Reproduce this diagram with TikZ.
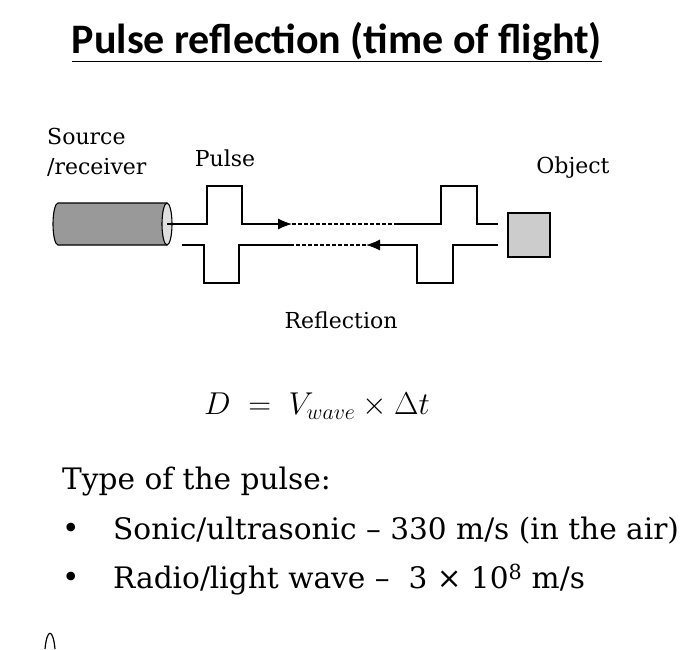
\documentclass[tikz,border=0pt]{standalone}
\usepackage{fontspec}
\setmainfont{DejaVu Serif}
\newfontfamily\titlefont{Carlito}
\usetikzlibrary{arrows.meta}
\begin{document}
\begin{tikzpicture}[x=1pt,y=-1pt,
  wire/.style={line width=1.1pt},
  dashline/.style={wire,dash pattern=on 4pt off 2pt},
  tip/.style={-{Latex[length=14pt,width=11pt]}},
  lbl/.style={font=\fontsize{22}{26}\selectfont,align=left},
  big/.style={font=\fontsize{29.6}{34}\selectfont,anchor=west}]
\useasboundingbox (0,0) rectangle (692,649);
% title
\node[font=\titlefont\bfseries\fontsize{42}{46}\selectfont] (title) at (337,42) {\underline{Pulse reflection (time of flight)}};
% source cylinder
\filldraw[wire,fill=gray!80] (167,203) -- (58,203) arc[x radius=5pt,y radius=21pt,start angle=90,end angle=270] -- (167,245);
\filldraw[wire,fill=gray!25] (167,224) ellipse[x radius=5pt,y radius=21pt];
\coordinate (src) at (167,224);
% object
\node[draw,wire,fill=gray!40,minimum width=42pt,minimum height=44pt,inner sep=0pt] (obj) at (529,235) {};
% outgoing pulse
\coordinate (a1) at (292,224);
\coordinate (a2) at (395,224);
\draw[wire,tip] (src) -- (207,224) -- (207,186) -- (242,186) -- (242,224) -- (a1);
\draw[dashline] (a1) -- (a2);
\draw[wire] (a2) -- (441,224) -- (441,186) -- (477,186) -- (477,224) -- (498,224);
% reflected pulse
\coordinate (b1) at (182,245);
\coordinate (b2) at (290,245);
\coordinate (b3) at (366,245);
\draw[wire] (b1) -- (204,245) -- (204,283) -- (239,283) -- (239,245) -- (b2);
\draw[dashline] (b2) -- (b3);
\draw[wire,tip] (498,245) -- (453,245) -- (453,283) -- (417,283) -- (417,245) -- (b3);
% labels
\node[lbl,anchor=west,inner sep=0pt] (s1) at (47,136) {Source};
\node[lbl,anchor=west,inner sep=0pt] (s2) at (47,167) {/receiver};
\node[lbl] (pulse) at (225,158) {Pulse};
\node[lbl] (object) at (573,168) {Object};
\node[lbl] (refl) at (341,320) {Reflection};
% equation
\node[scale=1.27,font=\fontsize{24}{28}\selectfont] (eq) at (317,406) {$D \;=\; V_{wave} \times \Delta t$};
% list
\node[big,inner sep=0pt] (type) at (62,482) {Type of the pulse:};
\node[big,inner sep=0pt] (d1) at (62,531) {\textbullet};
\node[big,inner sep=0pt] (t1) at (113,531) {Sonic/ultrasonic -- 330 m/s (in the air)};
\node[big,inner sep=0pt] (d2) at (62,580) {\textbullet};
\node[big,inner sep=0pt] (t2) at (113,580) {Radio/light wave --\ \ 3 × 10\textsuperscript{8} m/s};
% cut-off glyph at the bottom
\draw[line width=1.2pt] (45,649) .. controls (47,628) and (53,628) .. (55,649);
\end{tikzpicture}
\end{document}
